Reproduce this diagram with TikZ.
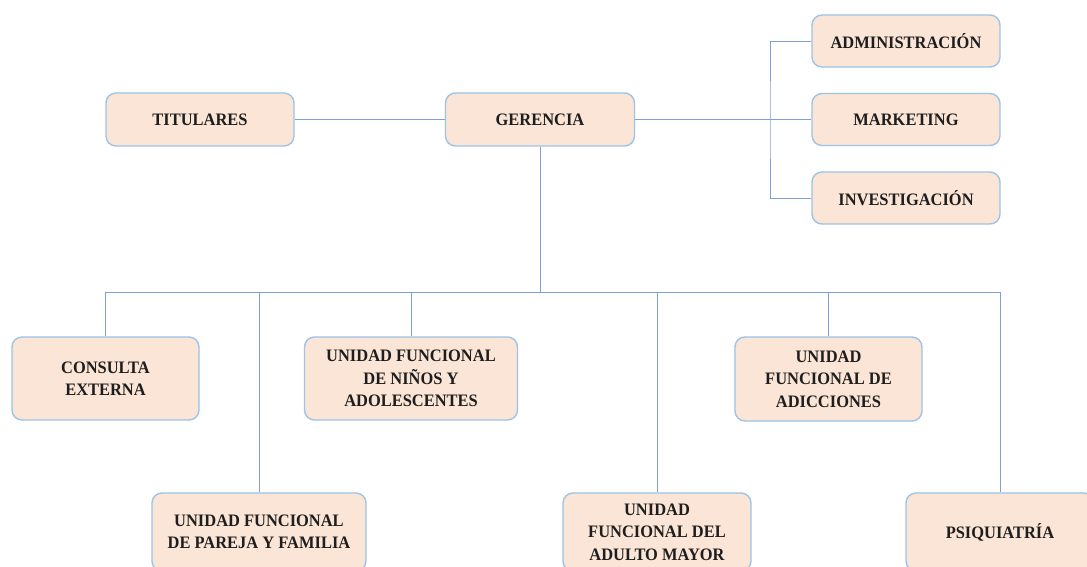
\documentclass[tikz,border=0pt]{standalone}
\usepackage{fontspec}
\setmainfont[FakeStretch=0.94]{Liberation Serif}
\definecolor{boxfill}{HTML}{FBE5D6}
\definecolor{boxline}{HTML}{9DC3E6}
\definecolor{conn}{HTML}{7F9FDB}
\definecolor{txt}{HTML}{1E1E1E}
\begin{document}
\begin{tikzpicture}[x=1pt,y=-1pt,
  orgbox/.style={draw=boxline, fill=boxfill, line width=1.4pt, rounded corners=10pt,
    align=center, inner sep=2pt, text=txt, font=\fontsize{17.5}{22.5}\selectfont\bfseries},
  link/.style={draw=conn, line width=0.9pt}]
\useasboundingbox (0,0) rectangle (1087,567);
\clip (0,0) rectangle (1087,567);
\fill[white] (0,0) rectangle (1087,567);
\node[orgbox, minimum width=188pt, minimum height=53pt] (tit) at (200,119.5) {TITULARES};
\node[orgbox, minimum width=189pt, minimum height=53pt] (ger) at (540,119.5) {GERENCIA};
\node[orgbox, minimum width=188pt, minimum height=52pt] (adm) at (906,41) {ADMINISTRACIÓN};
\node[orgbox, minimum width=188pt, minimum height=52pt] (mkt) at (906,119.5) {MARKETING};
\node[orgbox, minimum width=188pt, minimum height=52pt] (inv) at (906,198) {INVESTIGACIÓN};
\node[orgbox, minimum width=187pt, minimum height=83pt] (ce) at (105.5,378.5) {CONSULTA\\EXTERNA};
\node[orgbox, minimum width=213pt, minimum height=83pt] (nin) at (411,378.5) {UNIDAD FUNCIONAL\\DE NIÑOS Y\\ADOLESCENTES};
\node[orgbox, minimum width=187pt, minimum height=84pt] (adi) at (828.5,379) {UNIDAD\\FUNCIONAL DE\\ADICCIONES};
\node[orgbox, minimum width=214pt, minimum height=78pt] (par) at (259,532) {UNIDAD FUNCIONAL\\DE PAREJA Y FAMILIA};
\node[orgbox, minimum width=188pt, minimum height=78pt] (adu) at (657,532) {UNIDAD\\FUNCIONAL DEL\\ADULTO MAYOR};
\node[orgbox, minimum width=188pt, minimum height=78pt] (psi) at (1000,532) {PSIQUIATRÍA};
\coordinate (busr) at (770,119.5);
\coordinate (bus) at (540,292);
\draw[link] (tit.east) -- (ger.west);
\draw[link] (ger.east) -- (mkt.west);
\draw[link] (adm.west) -| (busr) |- (inv.west);
\draw[link] (ger.south) -- (bus);
\draw[link] (ce.north) -- (ce.north |- bus) -- (psi.north |- bus) -- (psi.north);
\draw[link] (nin.north) -- (nin.north |- bus);
\draw[link] (adi.north) -- (adi.north |- bus);
\draw[link] (par.north) -- (par.north |- bus);
\draw[link] (adu.north) -- (adu.north |- bus);
\end{tikzpicture}
\end{document}
